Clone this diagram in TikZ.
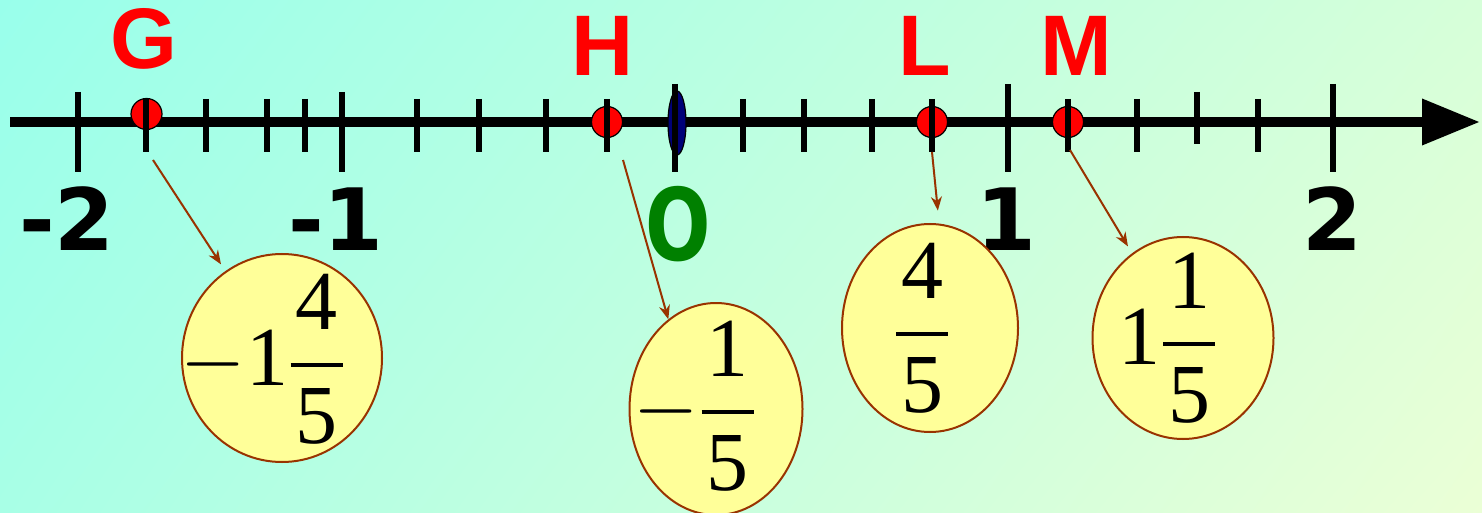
\RequirePackage{fix-cm}
\documentclass[tikz,border=0pt]{standalone}
\usepackage{amsmath}
\usepackage{fontspec}
\setmainfont{Liberation Serif}
\newfontfamily\letterfont{Liberation Sans}
\newfontfamily\numberfont{DejaVu Sans}
\usetikzlibrary{shapes.geometric,arrows.meta,shadings}

\definecolor{bgUL}{RGB}{153,255,235}
\definecolor{bgUR}{RGB}{214,255,217}
\definecolor{bgLL}{RGB}{168,255,230}
\definecolor{bgLR}{RGB}{235,255,214}
\definecolor{pointerbrown}{RGB}{153,51,0}
\definecolor{answeryellow}{RGB}{255,255,153}
\definecolor{origingreen}{RGB}{0,128,0}
\definecolor{originblue}{RGB}{0,0,120}

% fraction with serif digits and a heavier bar
\newcommand\fr[2]{\genfrac{}{}{2pt}{0}{\kern2.5pt\text{#1}\kern2.5pt}{\text{#2}}}

\tikzset{
    letter/.style={text=red, anchor=base, inner sep=0pt,
        font=\letterfont\bfseries\fontsize{43}{43}\selectfont},
    number/.style={anchor=base, inner sep=0pt,
        font=\numberfont\bfseries\fontsize{43}{43}\selectfont},
    dot/.style={circle, draw=black, line width=0.6pt, fill=red,
        minimum size=15.5pt, inner sep=0pt},
    tick/.style={line width=3pt},
    answer/.style={ellipse, draw=pointerbrown, line width=1pt,
        fill=answeryellow, inner sep=0pt},
    frtext/.style={inner sep=0pt, font=\fontsize{42}{50}\selectfont},
    pointer/.style={draw=pointerbrown, line width=1pt,
        -{Stealth[length=7pt,width=5.5pt]}}
}

\begin{document}
\begin{tikzpicture}[x=0.5pt, y=-0.5pt]
    \useasboundingbox (0,0) rectangle (1482,513);
    % Background
    \shade[upper left=bgUL, upper right=bgUR, lower left=bgLL, lower right=bgLR]
        (0,0) rectangle (1482,513);

    % Axis
    \draw[line width=5pt, -{Triangle[length=29pt,width=22pt]}] (10,122) -- (1480,122);

    % Points on the line
    \node[dot] (G) at (146.5,114) {};
    \node[dot] (H) at (607,122) {};
    \node[dot] (L) at (932,122) {};
    \node[dot] (M) at (1068,122) {};
    \node[ellipse, draw=black, line width=0.6pt, fill=originblue,
        minimum width=9pt, minimum height=32pt, inner sep=0pt] (O) at (677,123) {};

    % Ticks
    \foreach \x in {146,206,267,305,417,479,546,607,743,804,872,932,1068,1137,1258}
        \draw[tick] (\x,99) -- (\x,152);
    \foreach \x in {78,342}
        \draw[tick] (\x,92) -- (\x,172);
    \foreach \x in {675,1008,1333}
        \draw[tick] (\x,84) -- (\x,172);
    \draw[tick] (1197,92) -- (1197,144);

    % Point labels
    \node[letter] (labG) at (144,69) {G};
    \node[letter] (labH) at (603,76) {H};
    \node[letter] (labL) at (925,76) {L};
    \node[letter] (labM) at (1076,76) {M};

    % Axis numbers
    \node[number] (numA) at (67,250) {-2};
    \node[number] (numB) at (336,250) {-1};
    \node[number, text=origingreen,
        font=\numberfont\bfseries\fontsize{50}{50}\selectfont] (numO) at (678,261)
        {\scalebox{0.77}[1]{O}};
    \node[number] (numC) at (1006,250) {1};
    \node[number] (numD) at (1332,250) {2};

    % Answers
    \node[answer, minimum width=100pt, minimum height=104pt] (frG) at (282,358) {};
    \node[answer, minimum width=86.5pt, minimum height=106pt] (frH) at (716,409) {};
    \node[answer, minimum width=88pt, minimum height=104pt] (frL) at (930,328) {};
    \node[answer, minimum width=90.5pt, minimum height=101pt] (frM) at (1183,338) {};
    \node[frtext] (txG) at (263,359) {$-\text{1}\fr{4}{5}$};
    \node[frtext] (txH) at (695,406) {$-\fr{1}{5}$};
    \node[frtext] (txL) at (922,328) {$\fr{4}{5}$};
    \node[frtext] (txM) at (1168,338) {$\text{1}\fr{1}{5}$};

    % Pointers
    \coordinate (gs) at (153,160);
    \coordinate (hs) at (623,160);
    \coordinate (ls) at (932,152);
    \coordinate (ms) at (1070,150);
    \draw[pointer, shorten >=4pt] (gs) -- (frG);
    \draw[pointer] (hs) -- (frH.118);
    \draw[pointer, shorten >=6.5pt] (ls) -- (frL.85);
    \draw[pointer, shorten >=4pt] (ms) -- (frM);
\end{tikzpicture}
\end{document}
